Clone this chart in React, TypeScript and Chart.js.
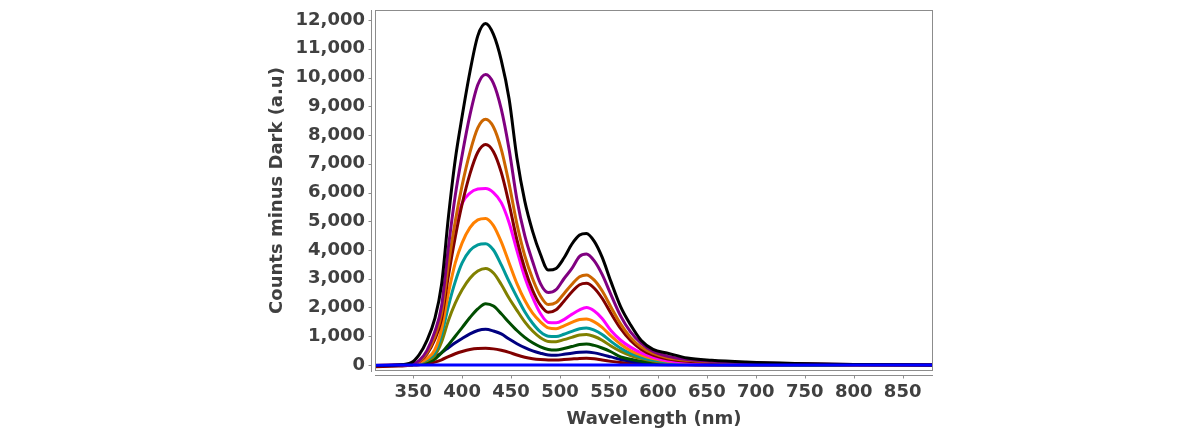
import { useEffect, useRef } from 'react';
import { Chart, registerables } from 'chart.js';

Chart.register(...registerables);

// shared wavelength grid (nm)
const wavelengths = [311, 335, 348, 356, 364, 372, 379, 386, 393, 400, 408, 416, 424, 432, 440, 448, 456, 464, 472, 480, 488, 496, 504, 512, 520, 527, 535, 543, 552, 562, 572, 583, 595, 610, 630, 655, 690, 740, 800, 881];

// counts minus dark, one array per spectrum (largest to smallest)
const blueBase = [-10, -5, 0, 0, 0, 0, 0, 0, 0, 0, 0, 0, 0, 0, 0, 0, 0, 0, 0, 0, 0, 0, 0, 0, 0, 0, 0, 0, 0, 0, 0, 0, 0, 0, 0, 0, 0, 0, 0, 0];
const blackSpec = [-20, 0, 80, 350, 850, 1600, 2800, 5150, 7150, 8650, 10200, 11450, 11880, 11500, 10600, 9250, 7200, 5700, 4650, 3850, 3300, 3360, 3720, 4200, 4520, 4575, 4300, 3750, 2900, 2020, 1400, 850, 540, 410, 240, 160, 100, 50, 20, 0];
const purpleSpec = [-20, 0, 20, 150, 500, 1150, 2050, 4100, 5900, 7300, 8700, 9750, 10110, 9800, 8900, 7500, 5750, 4500, 3600, 2830, 2520, 2620, 3000, 3350, 3780, 3860, 3620, 3150, 2450, 1700, 1150, 750, 470, 300, 190, 130, 80, 40, 15, 0];
const brownSpec = [-20, 0, 15, 120, 420, 980, 1800, 3500, 5000, 6250, 7400, 8250, 8550, 8280, 7500, 6300, 4900, 3800, 3000, 2400, 2100, 2170, 2480, 2800, 3070, 3130, 2950, 2580, 2020, 1420, 960, 620, 400, 250, 160, 110, 70, 30, 10, 0];
const maroonSpec = [-30, -10, 10, 110, 380, 880, 1600, 3100, 4450, 5600, 6650, 7400, 7670, 7420, 6700, 5600, 4350, 3350, 2600, 2080, 1830, 1920, 2220, 2540, 2790, 2840, 2670, 2320, 1800, 1260, 850, 540, 340, 210, 130, 90, 55, 25, 10, 0];
const magentaSpec = [-20, -10, 10, 100, 400, 1000, 1750, 3400, 4750, 5620, 5980, 6120, 6140, 6000, 5650, 4950, 3980, 3050, 2350, 1790, 1480, 1470, 1580, 1760, 1920, 2000, 1880, 1620, 1200, 860, 620, 420, 270, 150, 100, 70, 45, 20, 10, 0];
const orangeSpec = [-20, -10, 10, 80, 220, 520, 1250, 2500, 3550, 4250, 4780, 5050, 5100, 4850, 4280, 3550, 2830, 2250, 1800, 1500, 1290, 1260, 1360, 1480, 1580, 1600, 1500, 1310, 1010, 720, 500, 340, 220, 130, 80, 55, 35, 15, 5, 0];
const tealSpec = [-20, -10, 10, 70, 190, 420, 1050, 2050, 2900, 3550, 3980, 4180, 4220, 4000, 3480, 2900, 2360, 1850, 1450, 1150, 1000, 990, 1070, 1170, 1260, 1290, 1210, 1060, 820, 580, 400, 270, 170, 100, 60, 40, 25, 10, 5, 0];
const oliveSpec = [-20, -10, 10, 60, 150, 330, 800, 1550, 2150, 2620, 3020, 3270, 3360, 3200, 2800, 2320, 1900, 1500, 1180, 950, 820, 810, 880, 960, 1040, 1060, 990, 860, 660, 470, 330, 220, 140, 80, 50, 30, 20, 10, 5, 0];
const greenSpec = [-20, -10, 10, 40, 100, 200, 420, 700, 1000, 1300, 1650, 1950, 2130, 2050, 1780, 1480, 1200, 960, 770, 630, 540, 520, 570, 640, 710, 730, 680, 590, 460, 280, 200, 130, 85, 50, 30, 20, 10, 5, 0, 0];
const navySpec = [-20, -10, 5, 30, 90, 250, 430, 600, 770, 920, 1080, 1200, 1240, 1180, 1080, 900, 740, 600, 490, 410, 350, 340, 370, 410, 440, 450, 420, 360, 280, 190, 130, 85, 55, 30, 20, 10, 5, 0, 0, 0];
const darkRedSpec = [-60, -40, -10, 10, 40, 100, 180, 290, 390, 470, 540, 575, 580, 560, 510, 440, 345, 270, 220, 190, 175, 175, 190, 210, 228, 232, 215, 170, 125, 85, 55, 35, 20, 10, 5, 0, 0, 0, 0, 0];

const xTickValues = [350, 400, 450, 500, 550, 600, 650, 700, 750, 800, 850];
const yTickValues = [0, 1000, 2000, 3000, 4000, 5000, 6000, 7000, 8000, 9000, 10000, 11000, 12000];

// first entry is drawn on top
const spectra = [
  { name: 'baseline', color: '#0000ff', values: blueBase },
  { name: 's11', color: '#000000', values: blackSpec },
  { name: 's10', color: '#800080', values: purpleSpec },
  { name: 's9', color: '#cc6600', values: brownSpec },
  { name: 's8', color: '#800000', values: maroonSpec },
  { name: 's7', color: '#ff00ff', values: magentaSpec },
  { name: 's6', color: '#ff8000', values: orangeSpec },
  { name: 's5', color: '#009999', values: tealSpec },
  { name: 's4', color: '#808000', values: oliveSpec },
  { name: 's3', color: '#004d00', values: greenSpec },
  { name: 's2', color: '#000080', values: navySpec },
  { name: 's1', color: '#800000', values: darkRedSpec },
];

const xTitle = 'Wavelength (nm)';
const yTitle = 'Counts minus Dark (a.u)';

const TEXT = '#404040';
const FONT = { family: "'DejaVu Sans', Verdana, sans-serif", size: 18, weight: 'bold' as const };

// plot box outline plus the detached axis lines with small ticks
const framePlugin = {
  id: 'frame',
  afterDatasetsDraw(chart: Chart) {
    const { ctx, chartArea: a, scales } = chart;
    ctx.save();
    ctx.strokeStyle = '#8c8c8c';
    ctx.lineWidth = 1;
    ctx.strokeRect(a.left + 0.5, a.top + 0.5, a.right - a.left - 1, a.bottom - a.top - 1);

    const ax = a.left - 3.5;
    const ay = a.bottom + 4.5;
    ctx.beginPath();
    ctx.moveTo(ax, a.top);
    ctx.lineTo(ax, a.bottom + 1);
    ctx.moveTo(a.left, ay);
    ctx.lineTo(a.right, ay);
    scales.y.ticks.forEach((t) => {
      const py = Math.round(scales.y.getPixelForValue(t.value)) + 0.5;
      ctx.moveTo(ax - 3, py);
      ctx.lineTo(ax, py);
    });
    scales.x.ticks.forEach((t) => {
      const px = Math.round(scales.x.getPixelForValue(t.value)) + 0.5;
      ctx.moveTo(px, ay);
      ctx.lineTo(px, ay + 3);
    });
    ctx.stroke();
    ctx.restore();
  },
};

export default function App() {
  const canvasRef = useRef<HTMLCanvasElement>(null);

  useEffect(() => {
    document.body.style.margin = '0';
    if (!canvasRef.current) return;

    const chart = new Chart(canvasRef.current, {
      type: 'line',
      data: {
        datasets: spectra.map((s) => ({
          label: s.name,
          data: wavelengths.map((w, i) => ({ x: w, y: s.values[i] })),
          borderColor: s.color,
          backgroundColor: s.color,
          borderWidth: 3,
          pointRadius: 0,
          cubicInterpolationMode: 'monotone' as const,
          fill: false,
        })),
      },
      options: {
        responsive: true,
        maintainAspectRatio: false,
        animation: false,
        layout: { padding: { top: 10, right: 267, left: 0, bottom: 0 } },
        plugins: {
          legend: { display: false },
          tooltip: { enabled: false },
        },
        scales: {
          x: {
            type: 'linear',
            min: 311,
            max: 881,
            grid: { display: false, drawTicks: false },
            border: { display: false },
            afterBuildTicks: (s: any) => {
              s.ticks = xTickValues.map((v) => ({ value: v }));
            },
            ticks: {
              padding: 11,
              color: TEXT,
              font: FONT,
              maxRotation: 0,
              autoSkip: false,
            },
            title: {
              display: true,
              text: xTitle,
              color: TEXT,
              font: FONT,
              padding: { top: 0, bottom: 8 },
            },
            afterFit: (s: any) => {
              s.height = 67;
              s.paddingLeft = 0;
              s.paddingRight = 0;
            },
          },
          y: {
            type: 'linear',
            min: -210,
            max: 12350,
            grid: { display: false, drawTicks: false },
            border: { display: false },
            afterBuildTicks: (s: any) => {
              s.ticks = yTickValues.map((v) => ({ value: v }));
            },
            ticks: {
              autoSkip: false,
              padding: 10,
              color: TEXT,
              font: FONT,
              callback: (v: any) => Number(v).toLocaleString('en-US'),
            },
            title: {
              display: true,
              text: yTitle,
              color: TEXT,
              font: FONT,
              padding: { top: 267, bottom: 0 },
            },
            afterFit: (s: any) => {
              s.width = 375;
              s.paddingTop = 0;
              s.paddingBottom = 0;
            },
          },
        },
      },
      plugins: [framePlugin],
    });

    return () => chart.destroy();
  }, []);

  return (
    <div style={{ position: 'relative', width: 1200, height: 438, background: '#ffffff' }}>
      <canvas ref={canvasRef} />
    </div>
  );
}
